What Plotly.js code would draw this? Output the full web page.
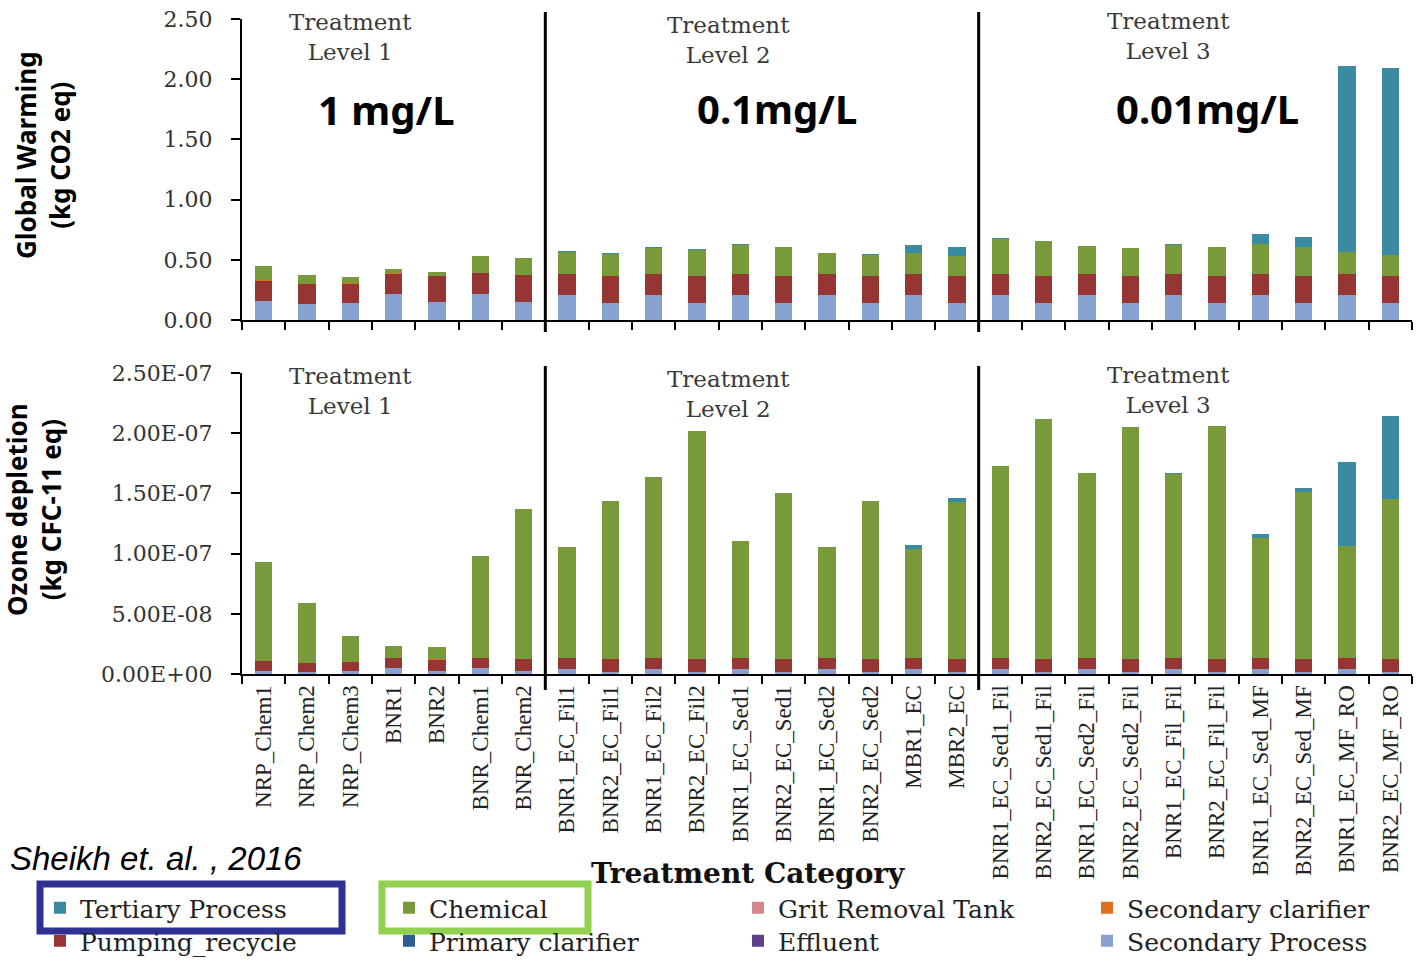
<!DOCTYPE html>
<html>
<head>
<meta charset="utf-8">
<script src="https://cdn.plot.ly/plotly-3.0.1.min.js"></script>
<style>html,body{margin:0;padding:0;background:#fff;}#chart{width:1422px;height:961px;}</style>
</head>
<body>
<div id="chart"></div>
<script>
// ---------------- DATA ----------------
const categories = ["NRP_Chem1","NRP_Chem2","NRP_Chem3","BNR1","BNR2","BNR_Chem1","BNR_Chem2",
  "BNR1_EC_Fil1","BNR2_EC_Fil1","BNR1_EC_Fil2","BNR2_EC_Fil2","BNR1_EC_Sed1","BNR2_EC_Sed1","BNR1_EC_Sed2","BNR2_EC_Sed2","MBR1_EC","MBR2_EC",
  "BNR1_EC_Sed1_Fil","BNR2_EC_Sed1_Fil","BNR1_EC_Sed2_Fil","BNR2_EC_Sed2_Fil","BNR1_EC_Fil_Fil","BNR2_EC_Fil_Fil","BNR1_EC_Sed_MF","BNR2_EC_Sed_MF","BNR1_EC_MF_RO","BNR2_EC_MF_RO"];

// Global warming (kg CO2 eq)
const gwSecondaryProcess = [0.158,0.133,0.141,0.216,0.150,0.216,0.150, 0.208,0.141,0.208,0.141,0.208,0.141,0.208,0.141,0.208,0.141, 0.208,0.141,0.208,0.141,0.208,0.141,0.208,0.141,0.208,0.141];
const gwEffluent          = [0,0,0,0,0,0,0, 0,0,0,0,0,0,0,0,0,0, 0,0,0,0,0,0,0,0,0,0];
const gwPrimaryClarifier  = [0.002,0.002,0.002,0.002,0.002,0.002,0.002, 0.002,0.002,0.002,0.002,0.002,0.002,0.002,0.002,0.002,0.002, 0.002,0.002,0.002,0.002,0.002,0.002,0.002,0.002,0.002,0.002];
const gwPumpingRecycle    = [0.167,0.162,0.160,0.168,0.212,0.170,0.220, 0.172,0.219,0.172,0.219,0.172,0.219,0.172,0.219,0.172,0.219, 0.169,0.219,0.169,0.219,0.169,0.219,0.169,0.219,0.169,0.219];
const gwSecondaryClarifier= [0.002,0.002,0.004,0.004,0.004,0.002,0.002, 0.002,0.002,0.002,0.002,0.002,0.002,0.002,0.002,0.002,0.002, 0.002,0.002,0.002,0.002,0.002,0.002,0.002,0.002,0.002,0.002];
const gwGritRemoval       = [0,0,0,0,0,0,0, 0,0,0,0,0,0,0,0,0,0, 0,0,0,0,0,0,0,0,0,0];
const gwChemical          = [0.122,0.077,0.047,0.036,0.033,0.144,0.144, 0.180,0.186,0.216,0.219,0.241,0.241,0.171,0.178,0.169,0.169, 0.291,0.291,0.233,0.233,0.244,0.241,0.247,0.244,0.180,0.180];
const gwTertiary          = [0,0,0,0,0,0,0, 0.005,0.004,0.004,0.004,0.004,0.004,0.004,0.004,0.072,0.075, 0.005,0.005,0.004,0.004,0.004,0.004,0.083,0.083,1.545,1.547];

// Ozone depletion (kg CFC-11 eq)
const odSecondaryProcess  = [2.2e-9,1.7e-9,2.7e-9,5.2e-9,2.7e-9,5.2e-9,2.7e-9, 4.5e-9,1.7e-9,4.5e-9,1.7e-9,4.5e-9,1.7e-9,4.5e-9,1.7e-9,4.5e-9,1.7e-9, 4.5e-9,1.7e-9,4.5e-9,1.7e-9,4.5e-9,1.7e-9,4.5e-9,1.7e-9,4.5e-9,1.7e-9];
const odEffluent          = [0,0,0,0,0,0,0, 0,0,0,0,0,0,0,0,0,0, 0,0,0,0,0,0,0,0,0,0];
const odPrimaryClarifier  = [0,0,0,0,0,0,0, 0,0,0,0,0,0,0,0,0,0, 0,0,0,0,0,0,0,0,0,0];
const odPumpingRecycle    = [8.9e-9,7.5e-9,6.9e-9,8.3e-9,9.1e-9,8.3e-9,1.0e-8, 8.6e-9,1.05e-8,8.6e-9,1.05e-8,8.6e-9,1.05e-8,8.6e-9,1.05e-8,8.6e-9,1.05e-8, 8.6e-9,1.05e-8,8.6e-9,1.05e-8,8.6e-9,1.05e-8,8.6e-9,1.05e-8,8.6e-9,1.05e-8];
const odSecondaryClarifier= [0,0,3e-10,0,4e-10,0,0, 0,0,0,0,0,0,0,0,0,0, 0,0,0,0,0,0,0,0,0,0];
const odGritRemoval       = [0,0,0,0,0,0,0, 0,0,0,0,0,0,0,0,0,0, 0,0,0,0,0,0,0,0,0,0];
const odChemical          = [8.22e-8,5.0e-8,2.19e-8,9.7e-9,1.05e-8,8.47e-8,1.246e-7, 9.24e-8,1.315e-7,1.505e-7,1.896e-7,9.74e-8,1.381e-7,9.24e-8,1.315e-7,9.07e-8,1.307e-7, 1.597e-7,1.996e-7,1.538e-7,1.928e-7,1.528e-7,1.938e-7,9.99e-8,1.39e-7,9.32e-8,1.331e-7];
const odTertiary          = [0,0,0,0,0,0,0, 0,0,0,0,0,0,0,0,3.3e-9,3.3e-9, 0,0,0,0,1.0e-9,0,3.3e-9,3.3e-9,6.98e-8,6.89e-8];

const seriesNames  = ["Secondary Process","Effluent","Primary clarifier","Pumping_recycle","Secondary clarifier","Grit Removal Tank","Chemical","Tertiary Process"];
const levelLabels  = ["Treatment<br>Level 1","Treatment<br>Level 2","Treatment<br>Level 3"];
const concLabels   = ["1 mg/L","0.1mg/L","0.01mg/L"];
const yTickValsOD  = [0,5e-8,1e-7,1.5e-7,2e-7,2.5e-7];
const yTickTextOD  = ["0.00E+00","5.00E-08","1.00E-07","1.50E-07","2.00E-07","2.50E-07"];
const yTickValsGW  = [0,0.5,1,1.5,2,2.5];
const yTickTextGW  = ["0.00","0.50","1.00","1.50","2.00","2.50"];

// ---------------- STYLE ----------------
const colors = ["#87A1D0","#5F3F87","#2F5B98","#963634","#E0701E","#D4888C","#789A3A","#3A8AA1"];
const legendOf = ["legend2","legend2","legend2","legend2","legend","legend","legend","legend"];
const gwSeries = [gwSecondaryProcess,gwEffluent,gwPrimaryClarifier,gwPumpingRecycle,gwSecondaryClarifier,gwGritRemoval,gwChemical,gwTertiary];
const odSeries = [odSecondaryProcess,odEffluent,odPrimaryClarifier,odPumpingRecycle,odSecondaryClarifier,odGritRemoval,odChemical,odTertiary];

const W = 1422, H = 961, L = 242, R = 10, T = 19, B = 287;
const PW = W - L - R, PH = H - T - B;
const px = v => (v - L) / PW;
const py = v => (H - B - v) / PH;

const traces = [];
seriesNames.forEach((n, i) => {
  traces.push({type:"bar", name:n, x:categories, y:gwSeries[i], xaxis:"x2", yaxis:"y2",
    marker:{color:colors[i], line:{width:0}}, legendgroup:n, showlegend:false, hoverinfo:"y+name"});
});
seriesNames.forEach((n, i) => {
  traces.push({type:"bar", name:n, x:categories, y:odSeries[i], xaxis:"x", yaxis:"y",
    marker:{color:colors[i], line:{width:0}}, legendgroup:n, showlegend:true, legend:legendOf[i], hoverinfo:"y+name"});
});

const serif = "DejaVu Serif";
const axisCommon = {showline:true, linecolor:"#000", linewidth:2, ticks:"outside", tickcolor:"#000", tickwidth:2, showgrid:false, zeroline:false, fixedrange:true};

const lvlFont = {family:serif, size:23, color:"#3a3a3a"};
const big = {family:"Noto Sans", size:40, color:"#000", weight:"bold"};
const ytitleFont = {family:"Noto Sans", size:26, color:"#000", weight:"bold"};
function ann(text, x, y, font, extra) {
  return Object.assign({text:text, xref:"paper", yref:"paper", x:px(x), y:py(y), xanchor:"center", yanchor:"middle", showarrow:false, font:font}, extra||{});
}
const lvlX = [350, 728, 1168];
const lvlYTop = [37, 40, 36];
const lvlYBot = [391, 394, 390];
const annotations = [
  ann(levelLabels[0], lvlX[0], lvlYTop[0], lvlFont), ann(levelLabels[1], lvlX[1], lvlYTop[1], lvlFont), ann(levelLabels[2], lvlX[2], lvlYTop[2], lvlFont),
  ann(levelLabels[0], lvlX[0], lvlYBot[0], lvlFont), ann(levelLabels[1], lvlX[1], lvlYBot[1], lvlFont), ann(levelLabels[2], lvlX[2], lvlYBot[2], lvlFont),
  ann(concLabels[0], 386, 110, big), ann(concLabels[1], 777, 108, big), ann(concLabels[2], 1207, 108, big),
  ann("Global Warming<br>(kg CO2 eq)", 43, 155, ytitleFont, {textangle:-90}),
  ann("Ozone depletion<br>(kg CFC-11 eq)", 34, 510, ytitleFont, {textangle:-90}),
  ann("Treatment Category", 748, 873, {family:serif, size:28, color:"#111", weight:"bold"}),
  ann("Sheikh et. al. , 2016", 8, 858, {family:"Liberation Sans", size:33, color:"#000", style:"italic"}, {xanchor:"left"})
];

const shapes = [
  {type:"line", xref:"x", yref:"paper", x0:6.5, x1:6.5, y0:py(332), y1:py(12), line:{color:"#000", width:3}},
  {type:"line", xref:"x", yref:"paper", x0:16.5, x1:16.5, y0:py(332), y1:py(12), line:{color:"#000", width:3}},
  {type:"line", xref:"x", yref:"paper", x0:6.5, x1:6.5, y0:py(690), y1:py(366), line:{color:"#000", width:3}},
  {type:"line", xref:"x", yref:"paper", x0:16.5, x1:16.5, y0:py(690), y1:py(366), line:{color:"#000", width:3}},
  {type:"rect", xref:"paper", yref:"paper", x0:px(40), x1:px(342), y0:py(931), y1:py(884), line:{color:"#2E3192", width:7}},
  {type:"rect", xref:"paper", yref:"paper", x0:px(382), x1:px(588), y0:py(931), y1:py(884), line:{color:"#92D050", width:7}}
];

const legendBase = {orientation:"h", xref:"paper", yref:"paper", xanchor:"left", yanchor:"middle",
  entrywidth:304, entrywidthmode:"pixels", traceorder:"reversed", bgcolor:"rgba(0,0,0,0)", borderwidth:0,
  font:{family:serif, size:25, color:"#222"}, itemclick:false, itemdoubleclick:false};

const layout = {
  width:W, height:H, margin:{l:L, r:R, t:T, b:B, autoexpand:false},
  paper_bgcolor:"#fff", plot_bgcolor:"#fff",
  barmode:"stack", bargap:0.6,
  showlegend:true,
  legend:Object.assign({}, legendBase, {x:px(40), y:py(908)}),
  legend2:Object.assign({}, legendBase, {x:px(40), y:py(941)}),
  xaxis:Object.assign({}, axisCommon, {domain:[0,1], anchor:"y", type:"category", range:[-0.5,26.5], tickson:"boundaries", ticklen:8,
    tickangle:-90, tickfont:{family:"Liberation Serif", size:23, color:"#222"}}),
  xaxis2:Object.assign({}, axisCommon, {domain:[0,1], anchor:"y2", type:"category", matches:"x", range:[-0.5,26.5], tickson:"boundaries", ticklen:8, showticklabels:false}),
  yaxis:Object.assign({}, axisCommon, {domain:[0,py(373)], anchor:"x", range:[0,2.5e-7], tickvals:yTickValsOD, ticktext:yTickTextOD, ticklen:9,
    ticklabelstandoff:14, tickfont:{family:serif, size:22, color:"#333"}}),
  yaxis2:Object.assign({}, axisCommon, {domain:[py(320),1], anchor:"x2", range:[0,2.5], tickvals:yTickValsGW, ticktext:yTickTextGW, ticklen:9,
    ticklabelstandoff:14, tickfont:{family:serif, size:22, color:"#333"}}),
  annotations:annotations, shapes:shapes
};

Plotly.newPlot("chart", traces, layout, {displayModeBar:false, staticPlot:true});
</script>
</body>
</html>
